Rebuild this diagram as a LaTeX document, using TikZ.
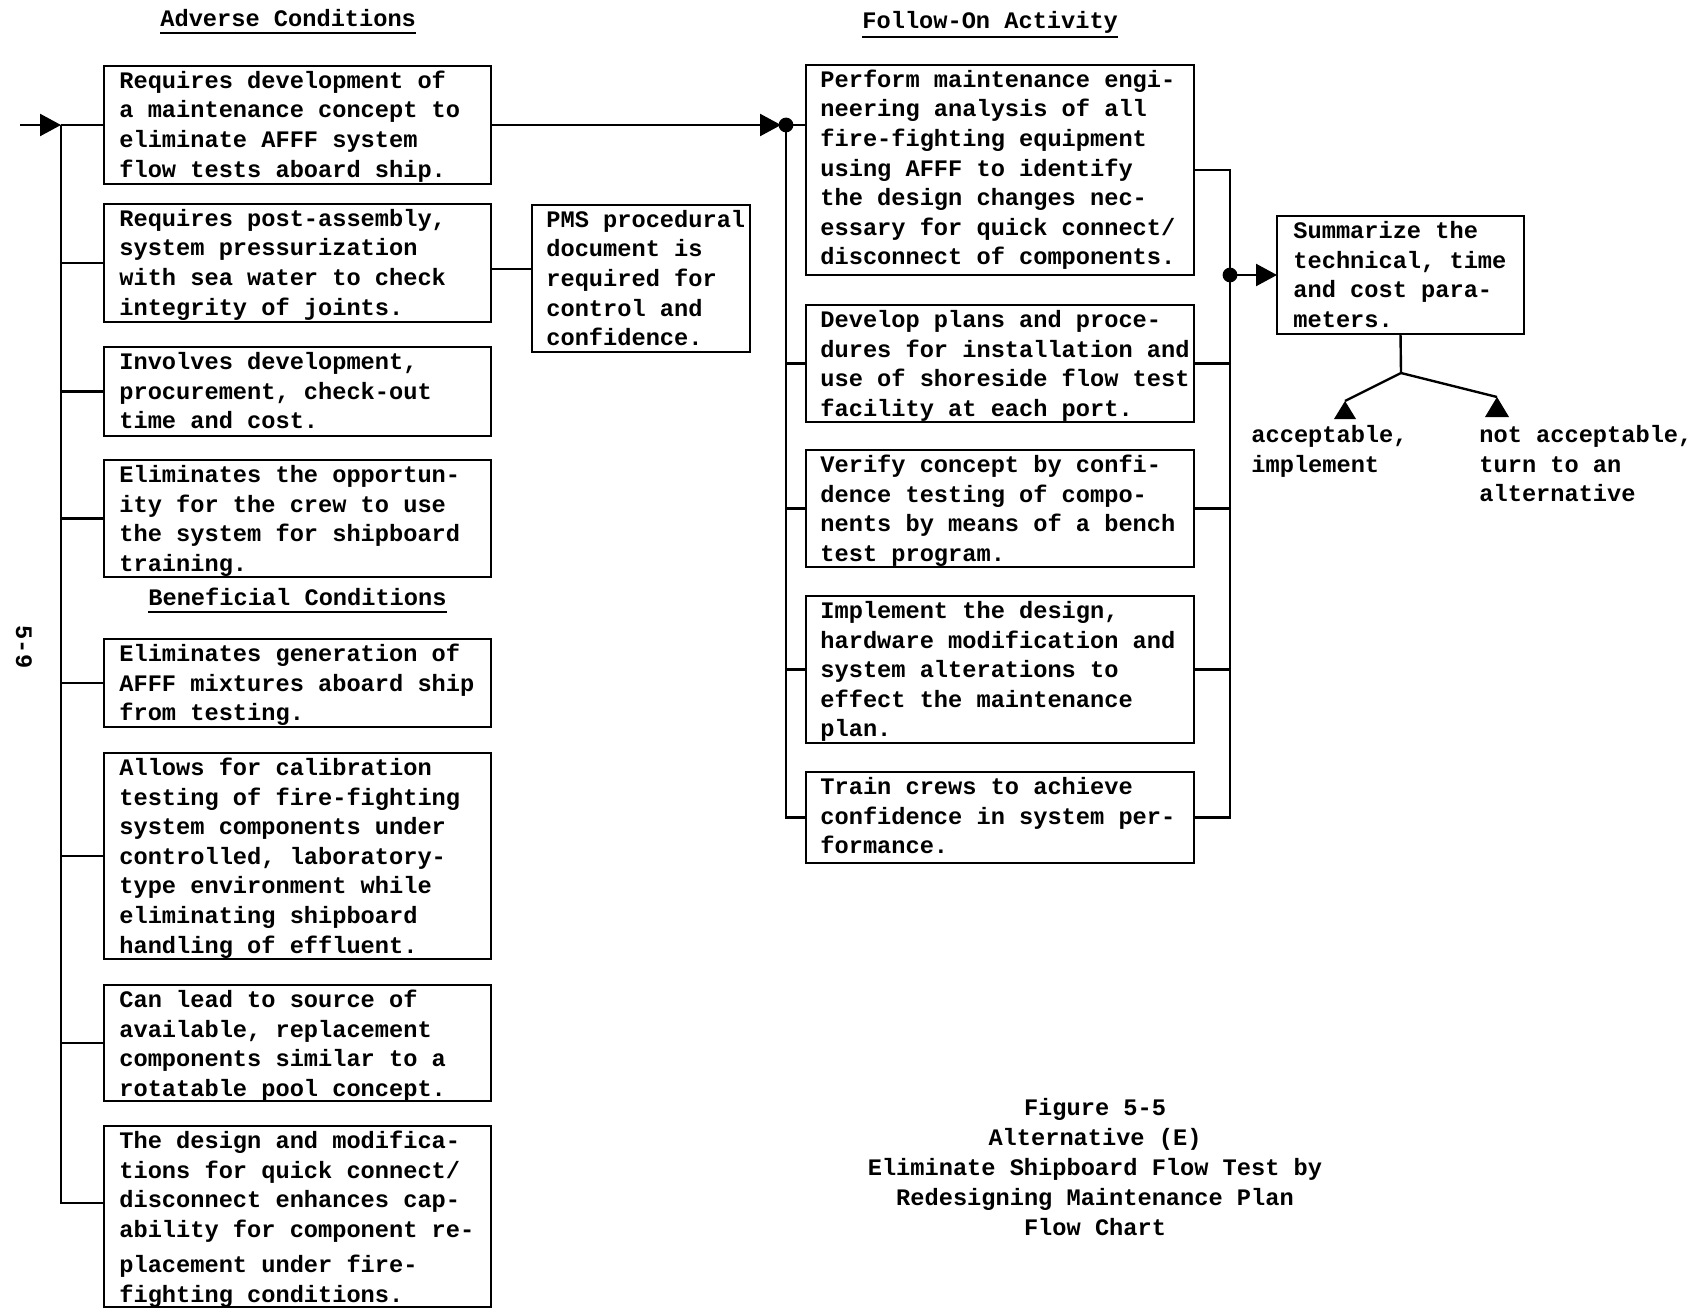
\documentclass[tikz,border=0pt]{standalone}
\usepackage{fontspec}
\newfontfamily\twfont{Liberation Mono}
\usetikzlibrary{fit,arrows.meta}
\newcommand\fst{\rule{0pt}{11pt}}
\tikzset{
  conn/.style={line width=1.2pt},
  frame/.style={draw, line width=1.3pt, inner sep=0pt, outer sep=0pt},
  txt/.style={anchor=north west, inner sep=0pt, align=left,
    font={\twfont\bfseries\fontsize{11.83pt}{14.8pt}\selectfont}},
  hd/.style={anchor=base west, inner sep=0pt,
    font={\twfont\bfseries\fontsize{11.83pt}{14.8pt}\selectfont}},
  ul/.style={line width=1pt},
  tipa/.style={-{Triangle[length=10.5pt,width=11pt]}},
  dot/.style={fill=black}
}
\begin{document}
\begin{tikzpicture}[x=0.5pt,y=-0.5pt]
\useasboundingbox (0,0) rectangle (1695,1310);

% headings
\node[hd] (hA) at (160,27) {Adverse Conditions};
\draw[ul] ([yshift=-3.2pt]hA.base west) -- ([yshift=-3.2pt]hA.base east);
\node[hd] (hF) at (862,29) {Follow-On Activity};
\draw[ul] ([yshift=-4pt]hF.base west) -- ([yshift=-4pt]hF.base east);
\node[hd] (hB) at (148,605) {Beneficial Conditions};
\draw[ul] ([yshift=-3.5pt]hB.base west) -- ([yshift=-3.5pt]hB.base east);

% left column frames
\node[frame, fit={(104,66) (491,184)}] (a1) {};
\node[frame, fit={(104,204) (491,322)}] (a2) {};
\node[frame, fit={(104,347) (491,436)}] (a3) {};
\node[frame, fit={(104,460) (491,577)}] (a4) {};
\node[frame, fit={(104,639) (491,727)}] (b1) {};
\node[frame, fit={(104,753) (491,959)}] (b2) {};
\node[frame, fit={(104,985) (491,1101)}] (b3) {};
\node[frame, fit={(104,1126) (491,1307)}] (b4) {};
\node[frame, fit={(532,205) (750,352)}] (pms) {};

\node[txt] (a1t) at ([xshift=7.5pt]a1.north west) {\fst Requires development of\\a maintenance concept to\\eliminate AFFF system\\flow tests aboard ship.};
\node[txt] (a2t) at ([xshift=7.5pt]a2.north west) {\fst Requires post-assembly,\\system pressurization\\with sea water to check\\integrity of joints.};
\node[txt] (a3t) at ([xshift=7.5pt]a3.north west) {\fst Involves development,\\procurement, check-out\\time and cost.};
\node[txt] (a4t) at ([xshift=7.5pt]a4.north west) {\fst Eliminates the opportun-\\ity for the crew to use\\the system for shipboard\\training.};
\node[txt] (b1t) at ([xshift=7.5pt]b1.north west) {\fst Eliminates generation of\\AFFF mixtures aboard ship\\from testing.};
\node[txt] (b2t) at ([xshift=7.5pt]b2.north west) {\fst Allows for calibration\\testing of fire-fighting\\system components under\\controlled, laboratory-\\type environment while\\eliminating shipboard\\handling of effluent.};
\node[txt] (b3t) at ([xshift=7.5pt]b3.north west) {\fst Can lead to source of\\available, replacement\\components similar to a\\rotatable pool concept.};
\node[txt] (b4t) at ([xshift=7.5pt]b4.north west) {\fst The design and modifica-\\tions for quick connect/\\disconnect enhances cap-\\ability for component re-\\[3pt]placement under fire-\\fighting conditions.};
\node[txt] (pmst) at ([xshift=7pt]pms.north west) {\fst PMS procedural\\document is\\required for\\control and\\confidence.};

% right column frames
\node[frame, fit={(806,65) (1194,275)}] (f1) {};
\node[frame, fit={(806,305) (1194,422)}] (f2) {};
\node[frame, fit={(806,450) (1194,567)}] (f3) {};
\node[frame, fit={(806,596) (1194,743)}] (f4) {};
\node[frame, fit={(806,772) (1194,863)}] (f5) {};
\node[frame, fit={(1277,216) (1524,334)}] (sum) {};

\node[txt] (f1t) at ([xshift=7pt]f1.north west) {\fst Perform maintenance engi-\\neering analysis of all\\fire-fighting equipment\\using AFFF to identify\\the design changes nec-\\essary for quick connect/\\disconnect of components.};
\node[txt] (f2t) at ([xshift=7pt]f2.north west) {\fst Develop plans and proce-\\dures for installation and\\use of shoreside flow test\\facility at each port.};
\node[txt] (f3t) at ([xshift=7pt]f3.north west) {\fst Verify concept by confi-\\dence testing of compo-\\nents by means of a bench\\test program.};
\node[txt] (f4t) at ([xshift=7pt]f4.north west) {\fst Implement the design,\\hardware modification and\\system alterations to\\effect the maintenance\\plan.};
\node[txt] (f5t) at ([xshift=7pt]f5.north west) {\fst Train crews to achieve\\confidence in system per-\\formance.};
\node[txt] (sumt) at ([xshift=8pt]sum.north west) {\fst Summarize the\\technical, time\\and cost para-\\meters.};

% outcome labels
\node[txt] (acct) at (1251,420) {\fst acceptable,\\implement};
\node[txt] (nacct) at (1479,420) {\fst not acceptable,\\turn to an\\alternative};

% caption
\node[txt, anchor=north, align=center, font={\twfont\bfseries\fontsize{11.83pt}{15pt}\selectfont}] (cap) at (1095,1093)
  {\fst Figure 5-5\\Alternative (E)\\Eliminate Shipboard Flow Test by\\Redesigning Maintenance Plan\\Flow Chart};

% page number
\node[hd, anchor=center, rotate=-90] (pg) at (24,647) {5-9};

% left bus
\coordinate (in) at (20,125);
\coordinate (lbus) at (61,125);
\coordinate (b4y) at (0,1203);
\draw[conn, tipa] (in) -- (lbus);
\draw[conn] (lbus) -- (a1.west);
\draw[conn] (lbus) |- (b4.west |- b4y);
\foreach \n in {a2,a3,a4,b1,b2,b3} {
  \draw[conn] (\n.west) -- (\n.west -| lbus);
}
% to PMS
\coordinate (pmsy) at (0,269);
\draw[conn] (a2.east |- pmsy) -- (pms.west |- pmsy);

% to follow-on
\coordinate (rtip) at (781,125);
\coordinate (rbus) at (786,125);
\draw[conn, tipa] (a1.east) -- (rtip);
\fill[dot] (rbus) circle (3.7pt);
\draw[conn] (rbus) -- (rbus -| f1.west);
\draw[conn] (rbus) |- (f5.west);
\foreach \n in {f2,f3,f4} {
  \draw[conn] (\n.west) -- (\n.west -| rbus);
}

% right bus
\coordinate (rr) at (1230,275);
\draw[conn] (f1.east) -| (rr);
\draw[conn] (rr) |- (f5.east);
\foreach \n in {f2,f3,f4} {
  \draw[conn] (\n.east) -- (\n.east -| rr);
}
\fill[dot] (rr) circle (3.7pt);
\draw[conn, tipa] (rr) -- (sum.west);

% decision split
\coordinate (split) at (1401,373);
\coordinate (acc) at (1345,401);
\coordinate (nacc) at (1497,397);
\draw[conn] (sum.south) -- (split) -- (acc);
\draw[conn] (split) -- (nacc);
\fill[dot] (acc) -- ++(-11,18) -- ++(22,0) -- cycle;
\fill[dot] (nacc) -- ++(-12,20) -- ++(24,0) -- cycle;
\end{tikzpicture}
\end{document}
